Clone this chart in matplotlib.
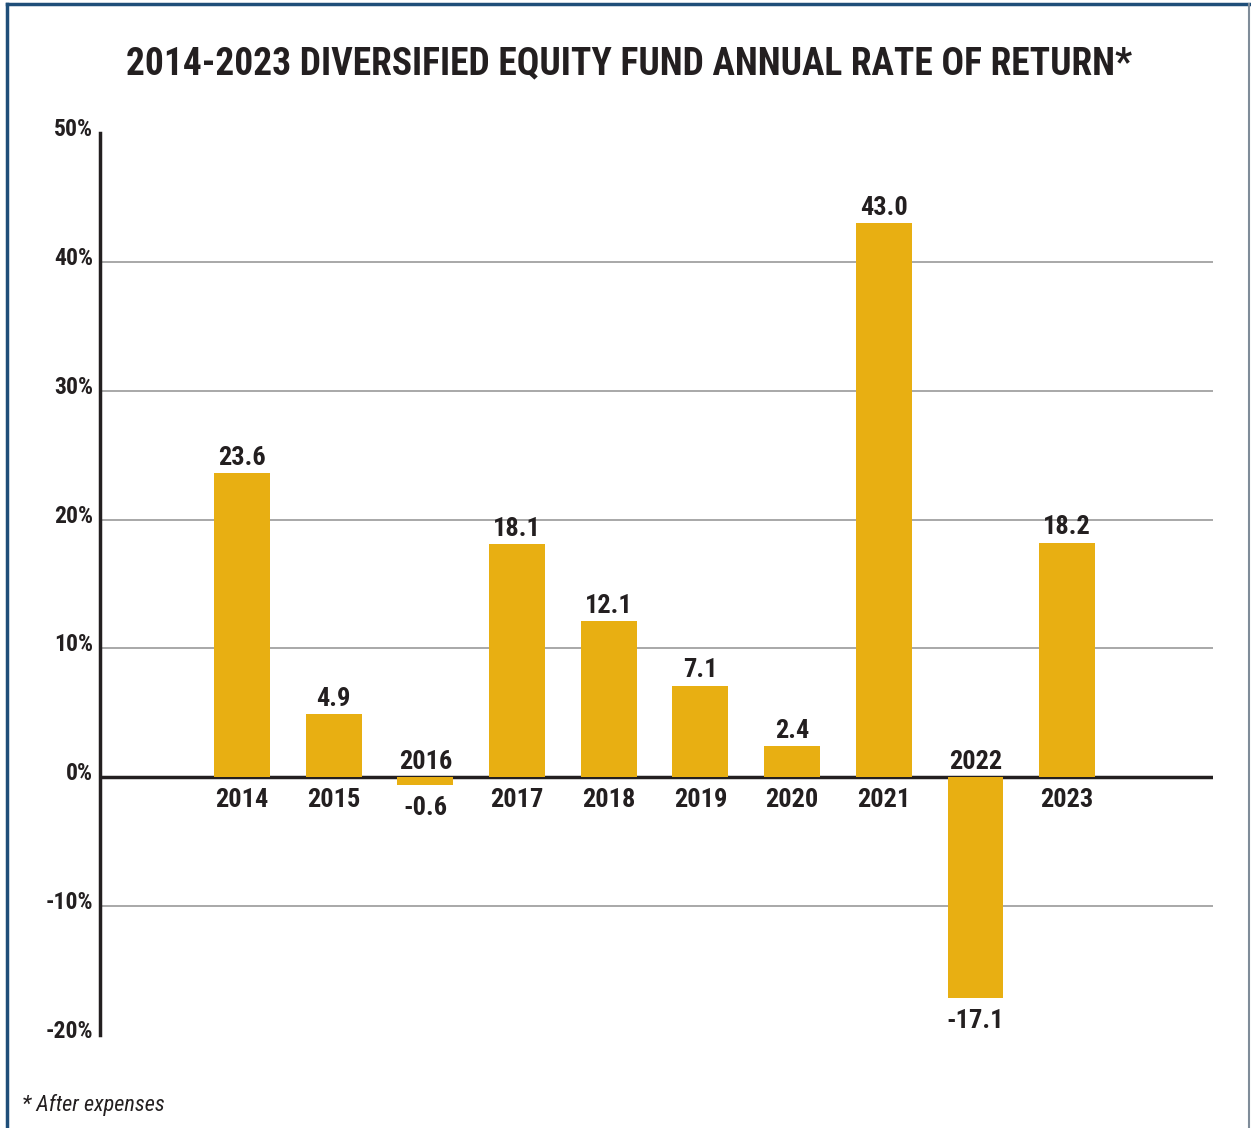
import matplotlib
matplotlib.use("Agg")
import matplotlib.pyplot as plt
from matplotlib import font_manager
from matplotlib.lines import Line2D
from matplotlib.transforms import ScaledTranslation

# Datos del gráfico
years = ["2014", "2015", "2016", "2017", "2018", "2019", "2020", "2021", "2022", "2023"]
returns = [23.6, 4.9, -0.6, 18.1, 12.1, 7.1, 2.4, 43.0, -17.1, 18.2]
y_ticks = [-20, -10, 0, 10, 20, 30, 40, 50]
y_tick_labels = ["-20%", "-10%", "0%", "10%", "20%", "30%", "40%", "50%"]
grid_ticks = [-10, 10, 20, 30, 40]

title = "2014-2023 DIVERSIFIED EQUITY FUND ANNUAL RATE OF RETURN*"
footnote = "* After expenses"

bar_color = "#E8AF12"
text_color = "#231F20"
grid_color = "#999999"

# fuente estrecha si existe, si no Liberation Sans (tipo Arial)
installed = {f.name for f in font_manager.fontManager.ttflist}
narrow = [n for n in ["Roboto Condensed", "Liberation Sans Narrow", "Arial Narrow",
                      "Open Sans Condensed", "Noto Sans Condensed"] if n in installed]
if narrow:
    fam = narrow[0]
    k = 1.0
else:
    fam = "Liberation Sans"
    k = 0.85
plt.rcParams["font.family"] = [fam, "DejaVu Sans"]

fig = plt.figure(figsize=(12.51, 11.28), dpi=100)
ax = fig.add_axes([100 / 1251, 93 / 1128, 1113 / 1251, 902 / 1128])

x = list(range(len(years)))
ax.bar(x, returns, width=0.61, color=bar_color, zorder=3)

ax.set_xlim(-1.549, 10.59)
ax.set_ylim(-20, 50)

# líneas de referencia
for t in grid_ticks:
    ax.axhline(t, color=grid_color, lw=1.2, zorder=1)
ax.axhline(0, color=text_color, lw=2.5, zorder=2)

for s in ["top", "right", "bottom"]:
    ax.spines[s].set_visible(False)
ax.spines["left"].set_linewidth(2.5)
ax.spines["left"].set_color(text_color)

ax.set_xticks([])
ax.set_yticks(y_ticks)
ax.set_yticklabels(y_tick_labels, fontsize=17 * k, fontweight="bold", color=text_color)
ax.tick_params(axis="y", length=0, pad=5)
# las etiquetas del eje quedan un poco por encima de la línea
for t in ax.get_yticklabels():
    t.set_transform(t.get_transform() + ScaledTranslation(0, 6 / 100, fig.dpi_scale_trans))

# etiquetas de año y valor
lab = dict(ha="center", fontsize=19 * k, fontweight="bold", color=text_color,
           textcoords="offset points")
for xi, yr, v in zip(x, years, returns):
    if v >= 0:
        ax.annotate(f"{v:.1f}", (xi, v), xytext=(0, 2.5), va="bottom", **lab)
        ax.annotate(yr, (xi, 0), xytext=(0, -7.5), va="top", **lab)
    else:
        ax.annotate(f"{v:.1f}", (xi, v), xytext=(0, -8), va="top", **lab)
        ax.annotate(yr, (xi, 0), xytext=(0, 2.5), va="bottom", **lab)

fig.text(629 / 1251, 1 - 64 / 1128, title, ha="center", va="center",
         fontsize=27 * k, fontweight="bold", color=text_color)
fig.text(22 / 1251, 1 - 1105 / 1128, footnote, ha="left", va="center",
         fontsize=16 * k, style="italic", color=text_color)

# marco
fig.add_artist(Line2D([7 / 1251, 7 / 1251], [0, 1 - 4 / 1128], transform=fig.transFigure,
                      color="#1F4E79", lw=2.5))
fig.add_artist(Line2D([7 / 1251, 1249 / 1251], [1 - 4 / 1128, 1 - 4 / 1128],
                      transform=fig.transFigure, color="#1F4E79", lw=2.5))
fig.add_artist(Line2D([1249 / 1251, 1249 / 1251], [0, 1 - 4 / 1128], transform=fig.transFigure,
                      color="#7F8C99", lw=1.5))

fig.savefig("out.png", dpi=100)
